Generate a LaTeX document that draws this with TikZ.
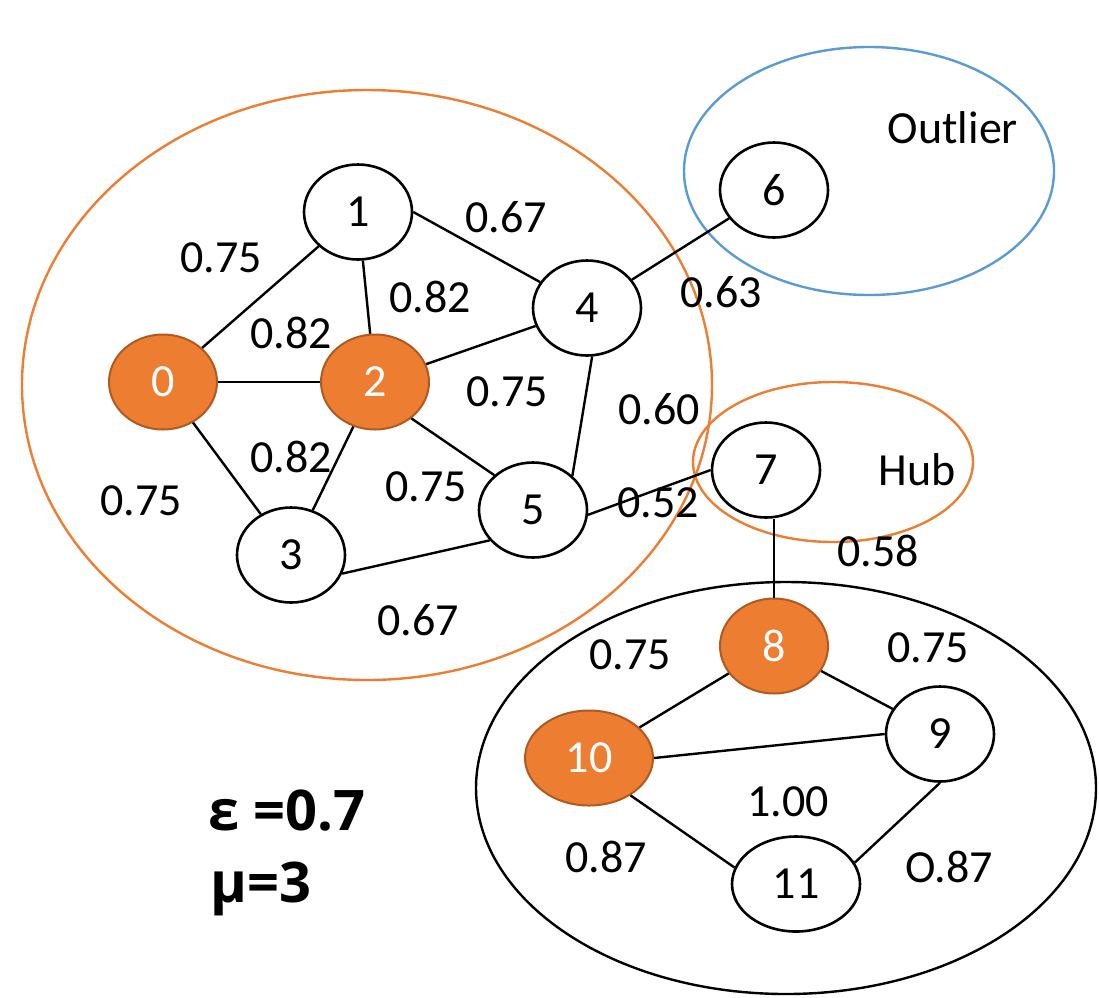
\documentclass[tikz,border=0pt]{standalone}
\usepackage{fontspec}
\setmainfont{Carlito}
\newfontfamily\boldfont{Open Sans}
\usetikzlibrary{shapes.geometric}
\definecolor{orng}{HTML}{ED7D31}
\definecolor{orngdark}{HTML}{AE5A21}
\definecolor{blu}{HTML}{5B9BD5}
\begin{document}
\begin{tikzpicture}[x=1pt,y=-1pt,
  vtx/.style={ellipse, draw=black, line width=2.6pt, fill=white, minimum width=108pt, minimum height=95pt, inner sep=0pt, font=\fontsize{46}{50}\selectfont},
  core/.style={vtx, fill=orng, draw=orngdark, line width=2pt, text=white},
  wide/.style={minimum width=128pt},
  lbl/.style={inner sep=0pt, font=\fontsize{46}{50}\selectfont},
  edge/.style={line width=2.4pt, draw=black},
  grp/.style={ellipse, line width=2.4pt, inner sep=0pt}
]
\useasboundingbox (0,0) rectangle (1099,997);

% group ellipses
\node[grp, draw=orng, minimum width=690pt, minimum height=590pt] (gA) at (367,385) {};
\node[grp, draw=blu, minimum width=370pt, minimum height=248pt] (gO) at (869,171) {};
\node[grp, draw=orng, minimum width=280pt, minimum height=160pt] (gH) at (833,462) {};
\node[grp, draw=black, minimum width=620pt, minimum height=412pt] (gB) at (786,788) {};

% vertices
\node[core] (n0) at (163,382) {0};
\node[vtx] (n1) at (358,212) {1};
\node[core] (n2) at (375,382) {2};
\node[vtx] (n3) at (291,555) {3};
\node[vtx] (n4) at (587,308) {4};
\node[vtx] (n5) at (533,510) {5};
\node[vtx] (n6) at (774,190) {6};
\node[vtx] (n7) at (766,470) {7};
\node[core] (n8) at (774,646) {8};
\node[vtx] (n9) at (940,734) {9};
\node[core, wide] (n10) at (589,758) {10};
\node[vtx, wide] (n11) at (796,884) {11};

% edges
\draw[edge] (n0) -- (n1);
\draw[edge] (n0) -- (n2);
\draw[edge] (n0) -- (n3);
\draw[edge] (n1) -- (n2);
\draw[edge] (n1.east) -- (n4);
\draw[edge] (n2) -- (n4);
\draw[edge] (n2.-45) -- (n5.138);
\draw[edge] (n2) -- (n3);
\draw[edge] (n3.-20) -- (n5.-145);
\draw[edge] (n4.-84) -- (n5.41);
\draw[edge] (n4) -- (n6);
\draw[edge] (n5.-5) -- (n7.west);
\draw[edge] (n7.south -| n8.north) -- (n8.north);
\draw[edge] (n8) -- (n10);
\draw[edge] (n8) -- (n9);
\draw[edge] (n10.east) -- (n9.west);
\draw[edge] (n10.-42) -- (n11.165);
\draw[edge] (n9.south) -- (n11.20);

% weights
\node[lbl] (w01) at (221,258) {0.75};
\node[lbl] (w02) at (291,333) {0.82};
\node[lbl] (w12) at (430,297) {0.82};
\node[lbl] (w14) at (506,217) {0.67};
\node[lbl] (w46) at (721,292) {0.63};
\node[lbl] (w24) at (507,392) {0.75};
\node[lbl] (w45) at (659,409) {0.60};
\node[lbl] (w23) at (291,457) {0.82};
\node[lbl] (w25) at (426,487) {0.75};
\node[lbl] (w35) at (418,620) {0.67};
\node[lbl] (w03) at (141,501) {0.75};
\node[lbl] (w57) at (658,503) {0.52};
\node[lbl] (w78) at (878,551) {0.58};
\node[lbl] (w810) at (630,655) {0.75};
\node[lbl] (w89) at (928,648) {0.75};
\node[lbl] (w109) at (788,802) {1.00};
\node[lbl] (w1011) at (606,857) {0.87};
\node[lbl] (w911) at (949,867) {O.87};

\node[lbl] (tout) at (953,128) {Outlier};
\node[lbl] (thub) at (917,470) {Hub};

\node[inner sep=0pt, anchor=base west, font=\boldfont\bfseries\fontsize{56}{60}\selectfont] (eps) at (208,830) {ε =0.7};
\node[inner sep=0pt, anchor=base west, font=\boldfont\bfseries\fontsize{56}{60}\selectfont] (mu) at (210,902) {μ=3};
\end{tikzpicture}
\end{document}
